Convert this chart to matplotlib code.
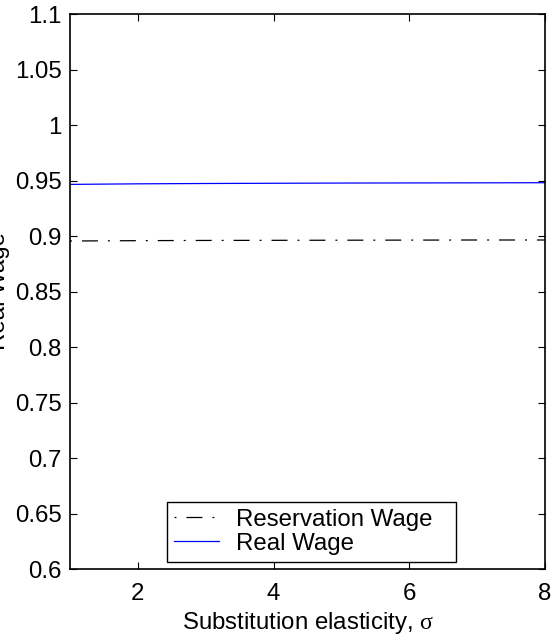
import matplotlib
matplotlib.use("Agg")
import matplotlib.pyplot as plt

plt.rcParams['font.family'] = ['Liberation Sans', 'DejaVu Sans']
plt.rcParams['lines.scale_dashes'] = False
plt.rcParams['mathtext.fontset'] = 'custom'
plt.rcParams['mathtext.rm'] = 'Liberation Serif'

# Substitution elasticity grid and wage levels
sigma = [1, 2, 3, 4, 5, 6, 7, 8]
reservation_wage = [0.8955, 0.8958, 0.8960, 0.8961, 0.8962, 0.8963, 0.8964, 0.8964]
real_wage = [0.9465, 0.9470, 0.9473, 0.9475, 0.9477, 0.9478, 0.9479, 0.9480]

x_ticks = [2, 4, 6, 8]
y_ticks = [0.6, 0.65, 0.7, 0.75, 0.8, 0.85, 0.9, 0.95, 1.0, 1.05, 1.1]
y_tick_labels = ['0.6', '0.65', '0.7', '0.75', '0.8', '0.85', '0.9', '0.95', '1', '1.05', '1.1']

fs = 17.3
fig = plt.figure(figsize=(5.56, 6.40), dpi=100)
ax = fig.add_axes([70 / 556, 1 - 569 / 640, 475 / 556, 555 / 640])

dash_dot = (18.7, (11.5, 7.2, 1.4, 7.2))
ax.plot(sigma, reservation_wage, color='black', linewidth=0.9,
        linestyle=dash_dot, label='Reservation Wage')
ax.plot(sigma, real_wage, color='#0000ff', linewidth=0.9, label='Real Wage')

ax.set_xlim(1, 8)
ax.set_ylim(0.6, 1.1)
ax.set_xticks(x_ticks)
ax.set_xticklabels([str(t) for t in x_ticks], fontsize=fs)
ax.set_yticks(y_ticks)
ax.set_yticklabels(y_tick_labels, fontsize=fs)
ax.tick_params(direction='in', length=5, width=0.8, top=True, right=True)
ax.tick_params(axis='x', pad=10)
ax.tick_params(axis='y', pad=6)
for s in ax.spines.values():
    s.set_linewidth(1.2)

ax.set_xlabel(r'Substitution elasticity, $\mathrm{\sigma}$', fontsize=fs, labelpad=4)
ax.set_ylabel('Real Wage', fontsize=fs)
ax.yaxis.set_label_coords(-60 / 475, 0.5)

leg = ax.legend(loc='lower left', bbox_to_anchor=(97 / 475, 7 / 555, 289 / 475, 0.1),
                mode='expand', fontsize=fs, frameon=True, fancybox=False,
                framealpha=1, edgecolor='black', handlelength=1.85,
                handletextpad=0.72, borderpad=0.3, labelspacing=0.08,
                borderaxespad=0)
leg.get_frame().set_linewidth(1.0)

fig.savefig('out.png', dpi=100)
